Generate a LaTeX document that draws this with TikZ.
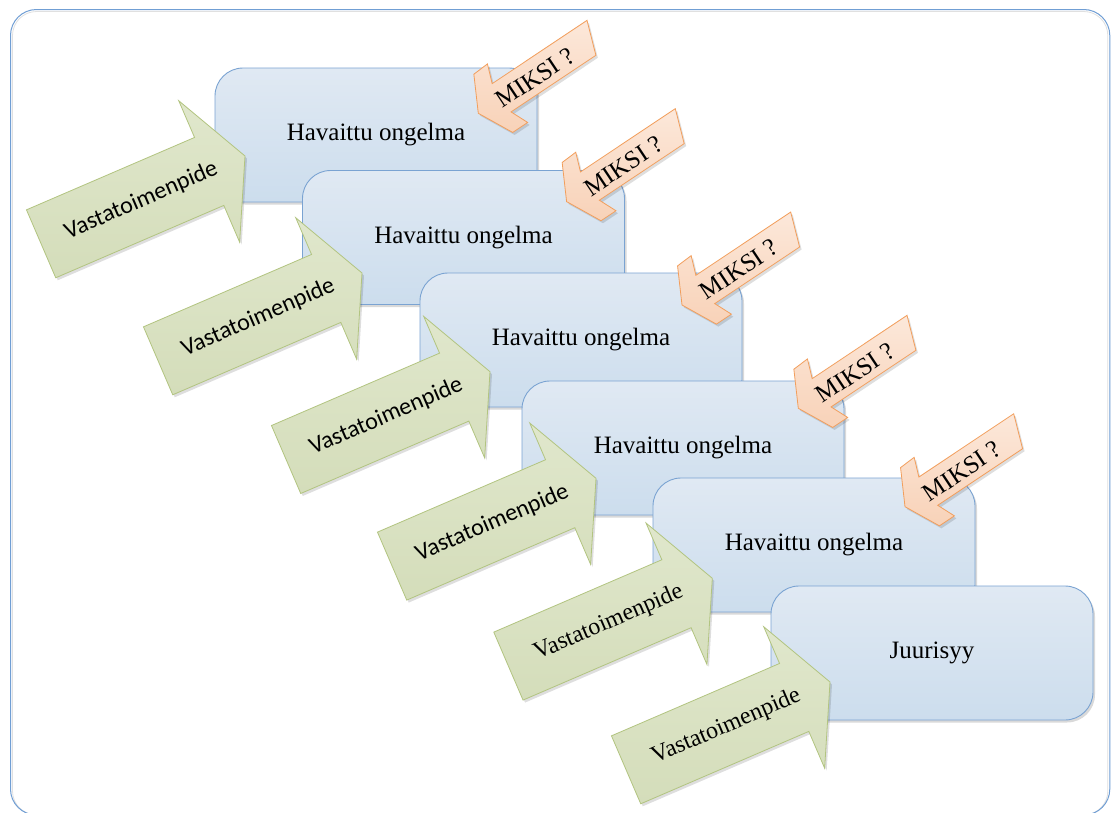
\documentclass[tikz,border=0pt]{standalone}
\usepackage{fontspec}
\setmainfont{Liberation Serif}
\newfontfamily\calibri{Carlito}
\usetikzlibrary{shadows}

\definecolor{framec}{RGB}{112,158,212}
\definecolor{boxline}{RGB}{122,163,210}
\definecolor{boxtop}{RGB}{224,233,243}
\definecolor{boxbot}{RGB}{204,221,237}
\definecolor{grtop}{RGB}{224,231,204}
\definecolor{grbot}{RGB}{212,221,186}
\definecolor{grline}{RGB}{178,196,128}
\definecolor{ortop}{RGB}{252,232,218}
\definecolor{orbot}{RGB}{248,210,184}
\definecolor{orline}{RGB}{242,158,92}

\tikzset{
  probbox/.style={rectangle, rounded corners=28pt, minimum width=322pt,
    minimum height=134pt, draw=boxline, line width=0.9pt,
    top color=boxtop, bottom color=boxbot, text=black,
    drop shadow={shadow xshift=2pt, shadow yshift=-2.5pt, fill=black, opacity=0.15},
    font=\fontsize{25}{28}\selectfont},
  actshape/.style={draw=grline, line width=0.8pt, top color=grtop, bottom color=grbot},
  whyshape/.style={draw=orline, line width=0.8pt, top color=ortop, bottom color=orbot},
  shadowfill/.style={fill=black, opacity=0.13},
  acttext/.style={font=\calibri\fontsize{24}{28}\selectfont, rotate=23.3, inner sep=0pt},
  acttextserif/.style={font=\fontsize{24}{28}\selectfont, rotate=23.3, inner sep=0pt},
  whytext/.style={font=\fontsize{25}{28}\selectfont, rotate=33.7, inner sep=0pt},
}

% block arrow "Vastatoimenpide": #1 name, #2/#3 tip, #4 text style
\newcommand\actionarrow[4]{%
  \begin{scope}[shift={(#2+2,#3+2.5)}, rotate=23.3]
    \fill[shadowfill] (0,0) -- (-39,77) -- (-39,37) -- (-222,37) -- (-222,-37)
      -- (-39,-37) -- (-39,-77) -- cycle;
  \end{scope}
  \begin{scope}[shift={(#2,#3)}, rotate=23.3]
    \path[actshape] (0,0) -- (-39,77) -- (-39,37) -- (-222,37) -- (-222,-37)
      -- (-39,-37) -- (-39,-77) -- cycle;
    \node[#4] (#1) at (-113,0) {Vastatoimenpide};
  \end{scope}}

% "MIKSI ?" arrow pointing down-left: #1 name, #2/#3 tip
\newcommand\miksiarrow[3]{%
  \begin{scope}[shift={(#2+2,#3+2.5)}, rotate=33.7]
    \fill[shadowfill] (0,0) -- (18,-35) -- (35,-36) -- (28,-17) -- (142,-17)
      -- (130,17) -- (28,17) -- (36,35) -- (18,35) -- cycle;
  \end{scope}
  \begin{scope}[shift={(#2,#3)}, rotate=33.7]
    \path[whyshape] (0,0) -- (18,-35) -- (35,-36) -- (28,-17) -- (142,-17)
      -- (130,17) -- (28,17) -- (36,35) -- (18,35) -- cycle;
    \node[whytext] (#1) at (67,2) {MIKSI ?};
  \end{scope}}

\begin{document}
\begin{tikzpicture}[x=1pt, y=-1pt]
  \useasboundingbox (0,0) rectangle (1112,812);
  \fill[white] (0,0) rectangle (1112,812);

  % outer frame
  \draw[black!12, line width=0.8pt, rounded corners=24pt] (12.5,11.5) rectangle (1107.8,815);
  \draw[framec, line width=1pt, rounded corners=26pt] (10.5,9.5) rectangle (1109.8,815);

  \node[probbox] (b1) at (376,135) {Havaittu ongelma};
  \actionarrow{a1}{245}{156}{acttext}
  \miksiarrow{m1}{478.3}{113.3}

  \node[probbox] (b2) at (463.5,237.5) {Havaittu ongelma};
  \actionarrow{a2}{362}{273}{acttext}
  \miksiarrow{m2}{566.6}{201.6}

  \node[probbox] (b3) at (581,340) {Havaittu ongelma};
  \actionarrow{a3}{490}{371.7}{acttext}
  \miksiarrow{m3}{682}{305}

  \node[probbox] (b4) at (683,448) {Havaittu ongelma};
  \actionarrow{a4}{596}{478.3}{acttext}
  \miksiarrow{m4}{798.3}{408.3}

  \node[probbox] (b5) at (814,545) {Havaittu ongelma};
  \actionarrow{a5}{712.3}{578.3}{acttextserif}
  \miksiarrow{m5}{905}{506.7}

  \node[probbox] (b6) at (932,653) {Juurisyy};
  \actionarrow{a6}{830}{682}{acttextserif}
\end{tikzpicture}
\end{document}
